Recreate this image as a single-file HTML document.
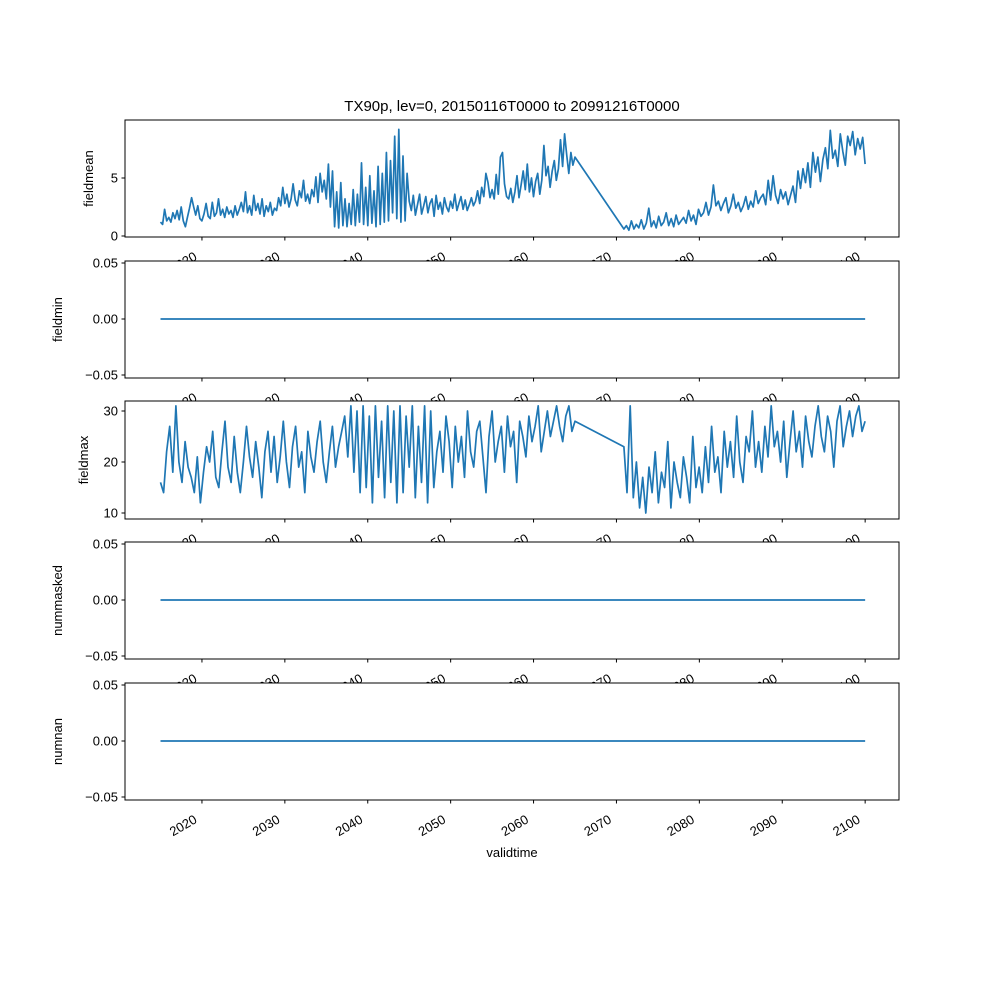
<!DOCTYPE html>
<html><head><meta charset="utf-8"><style>body{margin:0;background:#fff}svg{display:block;font-family:"Liberation Sans","DejaVu Sans",sans-serif}</style></head>
<body>
<svg id="fig" width="1000" height="1000" viewBox="0 0 1000 1000" xmlns="http://www.w3.org/2000/svg">
<rect width="1000" height="1000" fill="#fff"/>
<text x="512" y="111" font-size="15" text-anchor="middle">TX90p, lev=0, 20150116T0000 to 20991216T0000</text>
<text x="512" y="857" font-size="13" text-anchor="middle">validtime</text>
<g id="plots"></g>
</svg>
<script>
const xTicks=[2020,2030,2040,2050,2060,2070,2080,2090,2100];
const seg1Start=2015.0, seg1End=2065.0, seg2Start=2070.9, seg2End=2100.0;
const meanSeg1=[1.2,1.0,2.3,1.3,1.6,1.2,2.0,1.5,2.2,1.4,2.5,1.3,
0.8,1.6,2.4,3.3,2.5,1.8,2.6,1.5,1.3,1.9,2.8,1.7,1.5,2.9,1.7,2.0,
3.2,1.8,2.3,1.6,2.5,1.9,2.2,1.6,2.6,1.8,2.3,2.9,2.1,3.8,2.0,2.6,
1.8,3.5,2.2,2.8,1.9,3.2,1.7,2.6,2.1,2.9,1.8,2.4,2.2,3.3,2.6,4.2,
2.8,3.6,2.5,3.2,4.5,3.1,2.6,3.9,3.3,4.8,3.0,3.6,2.8,4.0,3.4,5.1,
2.9,5.4,3.8,4.8,3.2,6.2,2.5,5.6,0.8,3.8,0.7,4.6,0.9,3.2,0.8,2.8,
1.0,4.0,0.9,3.6,1.2,6.3,1.0,4.2,0.9,5.2,1.1,3.9,0.8,6.0,1.0,5.4,
1.2,7.2,1.3,6.5,2.0,8.6,1.5,9.2,1.2,6.9,1.3,5.4,
3.0,2.2,3.5,1.8,2.7,3.6,1.9,2.6,3.4,2.0,2.8,3.2,1.7,3.5,2.3,2.9,
1.9,3.3,2.5,2.1,3.0,2.4,3.6,2.2,2.8,3.4,2.3,3.1,2.2,2.7,3.3,2.6,
3.0,3.9,2.8,4.2,3.4,5.4,4.6,3.3,4.0,3.2,5.3,3.6,6.8,7.2,4.5,3.4,
3.2,4.1,2.9,3.8,5.2,3.3,4.4,5.6,4.0,6.2,3.8,5.0,3.4,4.7,5.4,3.6,
4.8,7.8,5.2,6.0,4.2,5.6,6.5,4.8,5.8,8.3,6.0,8.8,7.0,5.4,7.2,6.1,6.8];
const meanSeg2=[0.6,0.9,0.5,1.3,0.6,1.0,0.7,1.4,0.6,1.1,2.4,0.8,1.3,0.7,1.7,0.9,
1.2,2.0,0.9,1.5,0.8,1.8,1.0,1.3,1.6,1.1,2.2,1.3,1.8,1.0,2.3,1.7,
2.0,2.9,1.8,2.5,4.4,2.6,3.0,2.2,2.8,3.3,2.0,2.6,3.6,2.4,2.9,2.1,
2.6,3.4,2.3,3.0,2.5,3.9,2.8,3.3,3.6,2.7,4.8,3.1,5.2,3.5,2.8,4.0,
3.2,3.8,2.7,3.5,4.3,2.9,5.6,4.1,5.8,4.6,6.3,4.2,7.2,5.5,6.8,4.7,
6.6,7.6,5.8,9.1,6.7,7.4,6.0,8.8,7.3,6.1,8.6,7.8,9.0,7.0,8.4,7.5,8.5,6.2];
const maxSeg1=[16,14,22,27,18,31,20,16,24,19,17,14,21,12,18,23,20,26,17,15,22,28,19,16,25,18,14,20,27,21,
17,24,19,13,22,26,18,25,16,21,28,20,15,23,27,19,22,14,26,21,18,24,28,20,16,22,27,19,23,26,
29,21,31,18,30,14,31,15,29,12,31,17,28,13,31,16,30,12,31,14,29,19,31,13,27,16,31,12,30,15,
22,26,18,29,24,15,27,20,25,17,30,22,19,26,28,21,14,25,30,20,24,27,18,29,23,26,16,28,25,21,
29,24,27,31,22,26,30,25,28,31,27,24,29,31,26,28];
const maxSeg2=[23,14,31,13,20,11,17,10,19,14,22,12,18,15,24,11,20,16,13,21,17,12,25,15,19,14,23,16,27,18,
21,14,26,19,24,17,29,20,16,25,22,30,19,24,18,27,21,31,23,26,20,28,17,24,30,22,26,19,29,24,
21,27,31,25,22,29,26,19,28,31,23,27,30,25,29,31,26,28];
const zeroSeries=[0,0];
const panels=[
 {name:'fieldmean',top:120,bot:237,y0:236,ppu:11.6,ticks:[0,5],fmt:v=>String(v),labX:93,segs:[meanSeg1,meanSeg2]},
 {name:'fieldmin',top:261,bot:378,y0:319,ppu:1120,ticks:[-0.05,0,0.05],fmt:v=>v.toFixed(2),labX:62,zero:true},
 {name:'fieldmax',top:401,bot:519,y0:513,ppu:5.1,ticks:[10,20,30],fmt:v=>String(v),labX:88,segs:[maxSeg1,maxSeg2],base:10},
 {name:'nummasked',top:542,bot:659,y0:600,ppu:1120,ticks:[-0.05,0,0.05],fmt:v=>v.toFixed(2),labX:62,zero:true},
 {name:'numnan',top:683,bot:800,y0:741,ppu:1120,ticks:[-0.05,0,0.05],fmt:v=>v.toFixed(2),labX:62,zero:true}
];
const L=125,R=899;
function xs(t){return 160.5+(t-2015)*8.29;}
const NS='http://www.w3.org/2000/svg';
const root=document.getElementById('plots');
function mk(tag,attrs,parent){const e=document.createElementNS(NS,tag);for(const k in attrs)e.setAttribute(k,attrs[k]);(parent||root).appendChild(e);return e;}
panels.forEach((p,pi)=>{
 const g=mk('g',{});
 
 
 const bg=mk('rect',{x:L,y:p.top,width:R-L,height:p.bot-p.top,fill:'#fff'},g);
 
 
 const base=p.base||0;
 const ys=v=>p.y0-(v-base)*p.ppu;
 let d='';
 if(p.zero){
  d='M'+xs(seg1Start)+','+ys(zeroSeries[0])+'L'+xs(seg2End)+','+ys(zeroSeries[1]);
 }else{
  const s1=p.segs[0],s2=p.segs[1];
  const pts=[];
  s1.forEach((v,i)=>pts.push([xs(seg1Start+i*(seg1End-seg1Start)/(s1.length-1)),ys(v)]));
  s2.forEach((v,i)=>pts.push([xs(seg2Start+i*(seg2End-seg2Start)/(s2.length-1)),ys(v)]));
  d=pts.map((q,i)=>(i?'L':'M')+q[0].toFixed(1)+','+q[1].toFixed(1)).join('');
 }
 const line=mk('path',{d:d,fill:'none',stroke:'#1f77b4','stroke-width':1.7,'stroke-linejoin':'round'},g);
 
 
 const fr=mk('rect',{x:L,y:p.top,width:R-L,height:p.bot-p.top,fill:'none',stroke:'#000','stroke-width':1},g);
 
 
 p.ticks.forEach(t=>{
  const y=ys(t);
  mk('line',{x1:L-3.5,x2:L,y1:y,y2:y,stroke:'#000'},g);
  const tx=mk('text',{x:L-7,y:y+4.5,'font-size':13,'text-anchor':'end'},g);
  
  
  tx.textContent=p.fmt(t).replace('-','\u2212');
 });
 const yl=mk('text',{x:p.labX,y:(p.top+p.bot)/2,'font-size':13,'text-anchor':'middle',transform:'rotate(-90 '+p.labX+' '+(p.top+p.bot)/2+')'},g);
 
 
 yl.textContent=p.name;
 xTicks.forEach(t=>{
  const x=xs(t);
  mk('line',{x1:x,x2:x,y1:p.bot,y2:p.bot+3.5,stroke:'#000'},g);
  const ax=x-4, ay=p.bot+22;
  const tx=mk('text',{x:ax,y:ay,'font-size':13,'text-anchor':'end',transform:'rotate(-30 '+ax+' '+ay+')'},g);
  
  
  tx.textContent=String(t);
 });
});
</script>
</body></html>
